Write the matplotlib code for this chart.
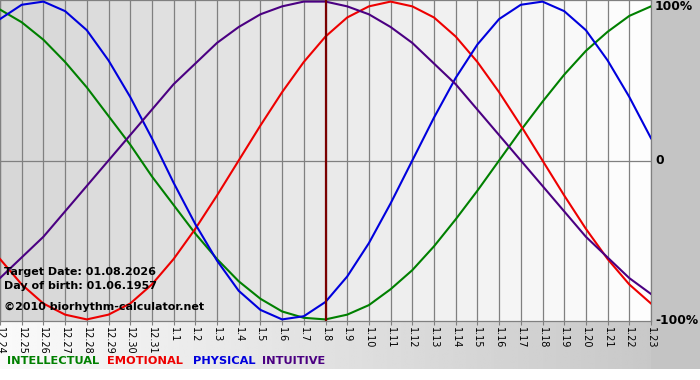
import numpy as np
import matplotlib.pyplot as plt
from matplotlib.patches import Rectangle

days = ['12.24', '12.25', '12.26', '12.27', '12.28', '12.29', '12.30', '12.31',
        '1.1', '1.2', '1.3', '1.4', '1.5', '1.6', '1.7', '1.8', '1.9', '1.10',
        '1.11', '1.12', '1.13', '1.14', '1.15', '1.16', '1.17', '1.18', '1.19',
        '1.20', '1.21', '1.22', '1.23']

intellectual = [0.95, 0.87, 0.76, 0.62, 0.46, 0.28, 0.10, -0.10, -0.28, -0.46,
                -0.62, -0.76, -0.87, -0.95, -0.99, -1.00, -0.97, -0.91, -0.81,
                -0.69, -0.54, -0.37, -0.19, 0.00, 0.19, 0.37, 0.54, 0.69, 0.81,
                0.91, 0.97]
emotional = [-0.62, -0.78, -0.90, -0.97, -1.00, -0.97, -0.90, -0.78, -0.62,
             -0.43, -0.22, 0.00, 0.22, 0.43, 0.62, 0.78, 0.90, 0.97, 1.00, 0.97,
             0.90, 0.78, 0.62, 0.43, 0.22, 0.00, -0.22, -0.43, -0.62, -0.78,
             -0.90]
physical = [0.89, 0.98, 1.00, 0.94, 0.82, 0.63, 0.40, 0.14, -0.14, -0.40, -0.63,
            -0.82, -0.94, -1.00, -0.98, -0.89, -0.73, -0.52, -0.27, 0.00, 0.27,
            0.52, 0.73, 0.89, 0.98, 1.00, 0.94, 0.82, 0.63, 0.40, 0.14]
intuitive = [-0.74, -0.61, -0.48, -0.32, -0.16, 0.00, 0.16, 0.32, 0.48, 0.61,
             0.74, 0.84, 0.92, 0.97, 1.00, 1.00, 0.97, 0.92, 0.84, 0.74, 0.61,
             0.48, 0.32, 0.16, 0.00, -0.16, -0.32, -0.48, -0.61, -0.74, -0.84]

target_day = '1.8'
series = [('INTELLECTUAL', intellectual, '#008000'),
          ('EMOTIONAL', emotional, '#ee0000'),
          ('PHYSICAL', physical, '#0000dd'),
          ('INTUITIVE', intuitive, '#4b0082')]

W, H = 700, 380
fig = plt.figure(figsize=(7, 3.8), dpi=100)

# background: grey strip on the right, fading strip under the plot
bg = fig.add_axes([0, 0, 1, 1])
bg.imshow(np.linspace(0.98, 0.77, 256).reshape(1, -1), cmap='gray', vmin=0, vmax=1,
          extent=(0, W, 369, 321), aspect='auto')
bg.add_patch(Rectangle((651, 0), 49, 369, color='#c4c4c4', lw=0))
bg.set_xlim(0, W)
bg.set_ylim(H, 0)
bg.axis('off')

ax = fig.add_axes([0, 1 - 321 / H, 651 / W, 321 / H])
x = np.arange(len(days))
ax.imshow(np.linspace(0.84, 0.99, len(days) - 1).reshape(1, -1), cmap='gray',
          vmin=0, vmax=1, extent=(0, len(days) - 1, -1.01, 1.01), aspect='auto',
          interpolation='nearest', zorder=0)
for xi in x:
    ax.axvline(xi, color='#808080', lw=0.9, zorder=1)
ax.axhline(0, color='#808080', lw=0.9, zorder=1)

for name, vals, col in series:
    ax.plot(x, vals, color=col, lw=1.5, zorder=3)

ax.axvline(days.index(target_day), color='#7a0000', lw=1.6, zorder=4)

ax.set_xlim(0, len(days) - 1)
ax.set_ylim(-1.01, 1.01)
ax.set_yticks([])
ax.set_xticks(x)
ax.set_xticklabels(days, rotation=-90, fontsize=7)
ax.tick_params(axis='x', length=3, color='#808080', pad=1.5)
for s in ax.spines.values():
    s.set_color('#808080')
    s.set_linewidth(0.9)

ax.text(0.006, 0.152, 'Target Date: 01.08.2026', transform=ax.transAxes,
        fontsize=8, fontweight='bold', va='center', zorder=5)
ax.text(0.006, 0.108, 'Day of birth: 01.06.1957', transform=ax.transAxes,
        fontsize=8, fontweight='bold', va='center', zorder=5)
ax.text(0.006, 0.044, '\u00a92010 biorhythm-calculator.net', transform=ax.transAxes,
        fontsize=8, fontweight='bold', va='center', zorder=5)

# right side percent labels
for lab, ypx in [('100%', 6), ('0', 161), ('-100%', 321)]:
    fig.text(655 / W, 1 - ypx / H, lab, fontsize=8.8, fontweight='bold', va='center')

# coloured legend words at the bottom
for (name, vals, col), xpx in zip(series, [7, 107, 193, 262]):
    fig.text(xpx / W, 1 - 361 / H, name, color=col, fontsize=8.2, fontweight='bold',
             va='center')

fig.savefig('out.png', dpi=100)
